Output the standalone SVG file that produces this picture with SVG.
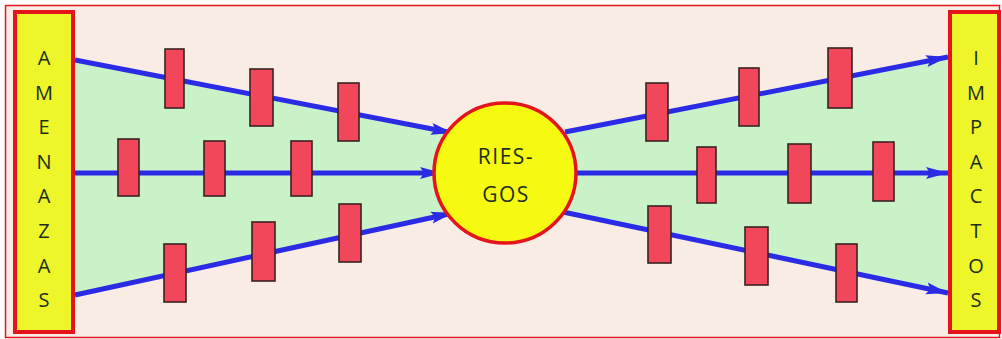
<svg xmlns="http://www.w3.org/2000/svg" width="1002" height="339" viewBox="0 0 1002 339">
<style>
.lbl{font-family:"Open Sans","Liberation Sans",sans-serif;font-size:20px;fill:#1c2e1c;text-anchor:middle}
.box{fill:#EEF528;stroke:#E5141A;stroke-width:4}
.bar{fill:#F2475A;stroke:#3a2222;stroke-width:1.6}
.con{stroke:#2B2BE6;stroke-width:5;fill:none}
</style>
<defs>
<marker id="ah" markerUnits="userSpaceOnUse" markerWidth="24" markerHeight="16" refX="22" refY="8" orient="auto">
<path d="M0,2 L22,8 L0,14 L4,8 Z" fill="#2B2BE6"/>
</marker>
</defs>
<rect x="0" y="0" width="1002" height="339" fill="#ffffff"/>
<rect x="5.5" y="5.5" width="994" height="332" fill="#F8ECE5" stroke="#E5141A" stroke-width="1.5"/>
<polygon points="75,60 455,133 562,132 948,57 948,293 562,212 455,213 75,295" fill="#C9F2C9"/>
<g id="connectors">
<line class="con" x1="75" y1="60" x2="453" y2="133" marker-end="url(#ah)"/>
<line class="con" x1="75" y1="173" x2="442" y2="173" marker-end="url(#ah)"/>
<line class="con" x1="75" y1="295" x2="453" y2="213" marker-end="url(#ah)"/>
<line class="con" x1="565" y1="132" x2="948" y2="57" marker-end="url(#ah)"/>
<line class="con" x1="575" y1="173" x2="948" y2="173" marker-end="url(#ah)"/>
<line class="con" x1="563" y1="212" x2="948" y2="293" marker-end="url(#ah)"/>
</g>
<g id="amenazas">
<rect class="box" x="15" y="12" width="58" height="320"/>
<text class="lbl" x="44" y="65"><tspan x="44">A</tspan><tspan x="44" dy="34.6">M</tspan><tspan x="44" dy="34.6">E</tspan><tspan x="44" dy="34.6">N</tspan><tspan x="44" dy="34.6">A</tspan><tspan x="44" dy="34.6">Z</tspan><tspan x="44" dy="34.6">A</tspan><tspan x="44" dy="34.6">S</tspan></text>
</g>
<g id="impactos">
<rect class="box" x="950" y="12" width="49" height="320"/>
<text class="lbl" x="976" y="65"><tspan x="976">I</tspan><tspan x="976" dy="34.6">M</tspan><tspan x="976" dy="34.6">P</tspan><tspan x="976" dy="34.6">A</tspan><tspan x="976" dy="34.6">C</tspan><tspan x="976" dy="34.6">T</tspan><tspan x="976" dy="34.6">O</tspan><tspan x="976" dy="34.6">S</tspan></text>
</g>
<g id="riesgos">
<ellipse cx="505" cy="173" rx="71" ry="70" fill="#F6FA10" stroke="#E5141A" stroke-width="3.5"/>
<text class="lbl" x="506" y="164" style="font-size:21px;letter-spacing:1.5px">RIES-</text>
<text class="lbl" x="506" y="202" style="font-size:21px;letter-spacing:1.5px">GOS</text>
</g>
<g id="barriers">
<rect class="bar" x="165" y="49" width="19" height="59"/>
<rect class="bar" x="250" y="69" width="23" height="57"/>
<rect class="bar" x="338" y="83" width="21" height="58"/>
<rect class="bar" x="118" y="139" width="21" height="57"/>
<rect class="bar" x="204" y="141" width="21" height="55"/>
<rect class="bar" x="291" y="141" width="21" height="55"/>
<rect class="bar" x="164" y="244" width="22" height="58"/>
<rect class="bar" x="252" y="222" width="23" height="59"/>
<rect class="bar" x="339" y="204" width="22" height="58"/>
<rect class="bar" x="646" y="83" width="22" height="58"/>
<rect class="bar" x="739" y="68" width="20" height="58"/>
<rect class="bar" x="828" y="48" width="24" height="60"/>
<rect class="bar" x="697" y="147" width="19" height="56"/>
<rect class="bar" x="788" y="144" width="23" height="59"/>
<rect class="bar" x="873" y="142" width="21" height="59"/>
<rect class="bar" x="648" y="206" width="23" height="57"/>
<rect class="bar" x="745" y="227" width="23" height="58"/>
<rect class="bar" x="836" y="244" width="21" height="58"/>
</g>
</svg>
